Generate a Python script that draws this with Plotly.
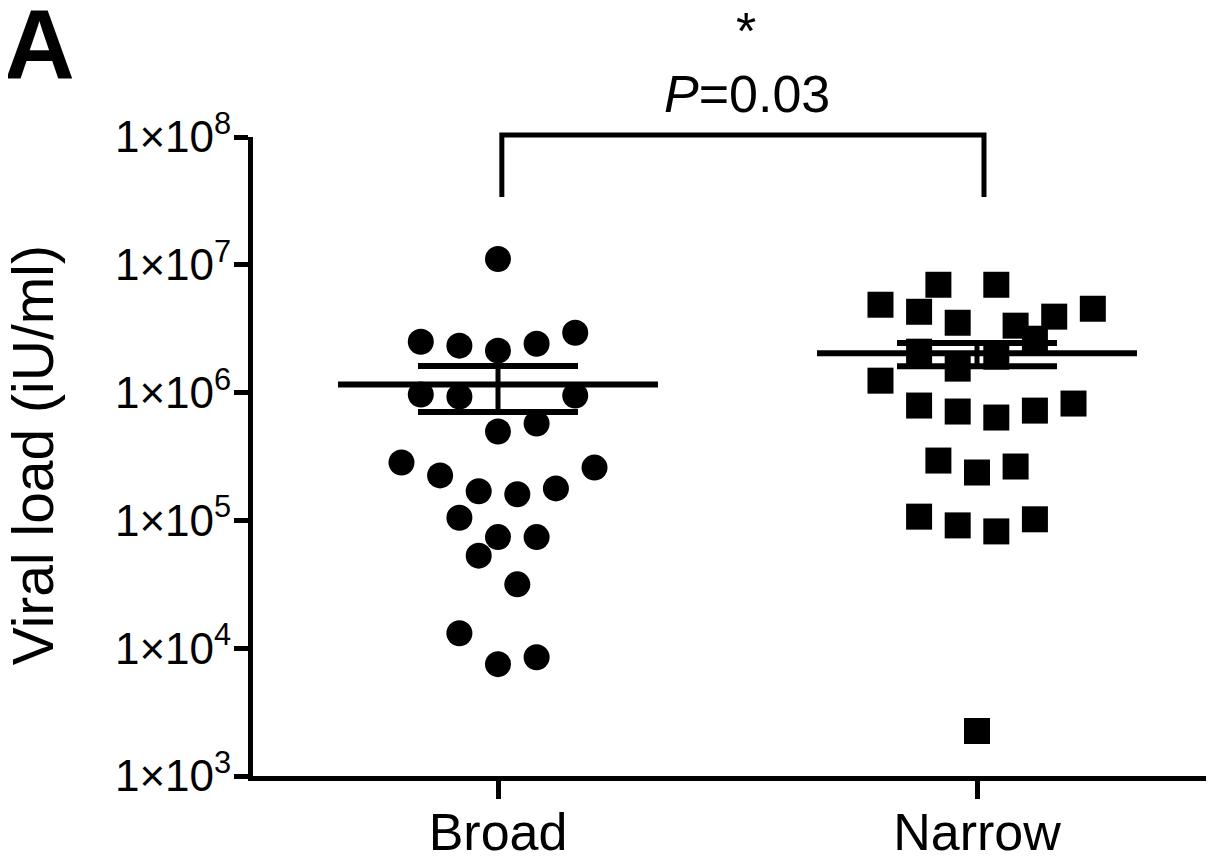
import numpy as np
import plotly.graph_objects as go

# ---- data ----
groups = ["Broad", "Narrow"]

broad_vals = [1.11e7, 2.50e6, 2.33e6, 2.13e6, 2.41e6, 2.94e6, 9.65e5, 9.30e5, 9.47e5,
              4.96e5, 5.72e5, 2.84e5, 2.25e5, 1.69e5, 1.60e5, 1.78e5, 2.59e5, 1.05e5,
              7.4e4, 7.4e4, 5.3e4, 3.16e4, 1.31e4, 7.5e3, 8.5e3]
broad_cols = [0, -4, -2, 0, 2, 4, -4, -2, 4, 0, 2, -5, -3, -1, 1, 3, 5, -2, 0, 2, -1, 1, -2, 0, 2]

narrow_vals = [4.87e6, 6.98e6, 6.98e6, 4.29e6, 3.52e6, 3.93e6, 4.53e6, 3.34e6, 2.64e6,
               2.09e6, 1.54e6, 1.91e6, 1.24e6, 7.92e5, 7.11e5, 6.38e5, 7.23e5, 8.21e5,
               2.94e5, 2.37e5, 2.64e5, 1.07e5, 9.14e4, 8.20e4, 1.02e5, 2.25e3]
narrow_cols = [-5, -2, 1, -3, -1, 4, 6, 2, 3, -3, -1, 1, -5, -3, -1, 1, 3, 5, -2, 0, 2, -3, -1, 1, 3, 0]

tick_vals = [1e3, 1e4, 1e5, 1e6, 1e7, 1e8]
tick_text = ["1\u00d710<sup>3</sup>", "1\u00d710<sup>4</sup>", "1\u00d710<sup>5</sup>",
             "1\u00d710<sup>6</sup>", "1\u00d710<sup>7</sup>", "1\u00d710<sup>8</sup>"]
p_text = "<i>P</i>=0.03"
star_text = "*"
y_title = "Viral load (iU/ml)"
panel_label = "<b>A</b>"

# ---- styling constants ----
FONT = "Liberation Sans, Arial, sans-serif"
STEP = 0.0403          # horizontal spacing of scatter columns (axis units)
MEAN_HALF = 0.334      # half width of the mean bar
CAP_HALF = 0.167       # half width of SEM caps

fig = go.Figure()

series = [(broad_vals, broad_cols, "circle"), (narrow_vals, narrow_cols, "square")]
for gi, (vals, cols, sym) in enumerate(series):
    v = np.array(vals)
    x = gi + STEP * np.array(cols)
    fig.add_trace(go.Scatter(x=x, y=v, mode="markers",
                             marker=dict(symbol=sym, size=26, color="black", line=dict(width=0)),
                             showlegend=False, hoverinfo="y"))
    mean = v.mean()
    sem = v.std(ddof=1) / np.sqrt(len(v))
    # mean bar
    fig.add_trace(go.Scatter(x=[gi - MEAN_HALF, gi + MEAN_HALF], y=[mean, mean], mode="lines",
                             line=dict(color="black", width=6), showlegend=False, hoverinfo="skip"))
    # SEM caps
    for yv in (mean - sem, mean + sem):
        fig.add_trace(go.Scatter(x=[gi - CAP_HALF, gi + CAP_HALF], y=[yv, yv], mode="lines",
                                 line=dict(color="black", width=6), showlegend=False, hoverinfo="skip"))
    # vertical SEM line
    fig.add_trace(go.Scatter(x=[gi, gi], y=[mean - sem, mean + sem], mode="lines",
                             line=dict(color="black", width=5), showlegend=False, hoverinfo="skip"))

# significance bracket (x in data units, y in paper units)
fig.add_shape(type="path", xref="x", yref="paper",
              path="M 0.008,0.906 L 0.008,1.003 L 1.0146,1.003 L 1.0146,0.906",
              line=dict(color="black", width=5))

fig.add_annotation(x=0.52, xref="x", y=1.068, yref="paper", text=p_text, showarrow=False,
                   font=dict(family=FONT, size=52, color="black"), xanchor="center", yanchor="middle")
fig.add_annotation(x=0.518, xref="x", y=1.166, yref="paper", text=star_text, showarrow=False,
                   font=dict(family=FONT, size=52, color="black"), xanchor="center", yanchor="middle")
fig.add_annotation(x=-0.2288, xref="paper", y=0.502, yref="paper", text=y_title, showarrow=False,
                   textangle=-90, font=dict(family=FONT, size=57, color="black"),
                   xanchor="center", yanchor="middle")
fig.add_annotation(x=-0.2613, xref="paper", y=1.145, yref="paper", text=panel_label, showarrow=False,
                   font=dict(family=FONT, size=98, color="black"), xanchor="left", yanchor="middle")

fig.update_layout(
    width=1206, height=852,
    margin=dict(l=245, r=0, t=129, b=84),
    paper_bgcolor="white", plot_bgcolor="white",
    font=dict(family=FONT, color="black"),
    xaxis=dict(range=[-0.5115, 1.4948], tickvals=[0, 1], ticktext=groups, automargin=False,
               showline=True, linecolor="black", linewidth=5,
               ticks="outside", ticklen=18, tickwidth=5, tickcolor="black",
               ticklabelstandoff=-11,
               tickfont=dict(family=FONT, size=52, color="black"),
               showgrid=False, zeroline=False),
    yaxis=dict(type="log", range=[3, 8], tickvals=tick_vals, ticktext=tick_text, automargin=False,
               showline=True, linecolor="black", linewidth=5,
               ticks="outside", ticklen=14, tickwidth=5, tickcolor="black",
               ticklabelstandoff=-6,
               tickfont=dict(family=FONT, size=44, color="black"),
               showgrid=False, zeroline=False),
)

fig.write_html("out.html")
